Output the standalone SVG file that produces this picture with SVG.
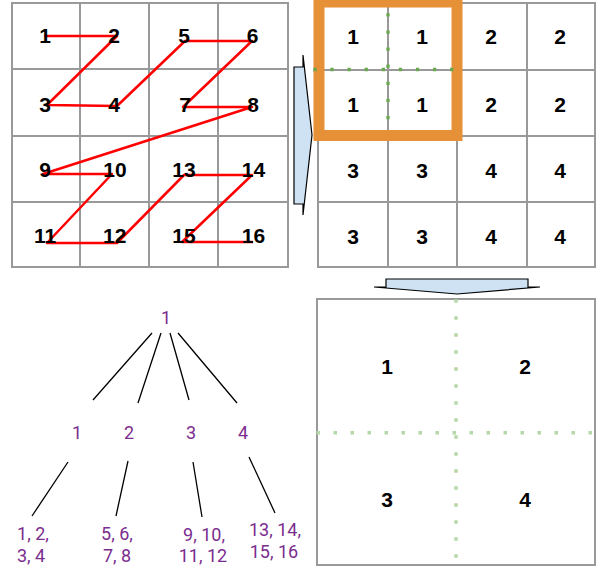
<svg xmlns="http://www.w3.org/2000/svg" width="601" height="569" viewBox="0 0 601 569">
<style>
.grid{fill:none;stroke:#999999;stroke-width:2}
.num{font-family:"Liberation Sans",Arial,sans-serif;font-weight:bold;font-size:21px;fill:#000;text-anchor:middle}
.red{fill:none;stroke:#ff0000;stroke-width:2.5;stroke-linejoin:round}
.arrow{fill:#cfe2f3;stroke:#000;stroke-width:1.2;stroke-linejoin:miter}
.dg{stroke:#6aa84f;stroke-width:3.3;stroke-dasharray:3.3 13.8;fill:none}
.lg{stroke:#b6d7a8;stroke-width:3.5;stroke-dasharray:3.5 13.5;fill:none}
.tree{font-family:Roboto,"Liberation Sans",sans-serif;font-size:18px;fill:#7b2d8e;text-anchor:middle}
.edge{stroke:#000;stroke-width:1.3;fill:none}
</style>
<rect width="601" height="569" fill="#ffffff"/>

<g id="left-grid">
<rect class="grid" x="12" y="3" width="276" height="264"/>
<path class="grid" d="M80 3V267M149 3V267M218 3V267M12 69H288M12 136H288M12 202H288"/>
</g>
<g id="zorder-path">
<polyline class="red" points="44,36 117,36 47,105 117,106 185,41 252,41 183,107 252,107 43,174 112,174 47,243 117,243 184,175 252,175 182,242 253,242"/>
</g>
<g id="left-grid-labels">
<text class="num" x="45" y="43">1</text>
<text class="num" x="114" y="43">2</text>
<text class="num" x="184" y="43">5</text>
<text class="num" x="252.5" y="43">6</text>
<text class="num" x="45" y="111.5">3</text>
<text class="num" x="114" y="111.5">4</text>
<text class="num" x="185" y="111.5">7</text>
<text class="num" x="253" y="111.5">8</text>
<text class="num" x="45" y="176.5">9</text>
<text class="num" x="115" y="176.5">10</text>
<text class="num" x="184" y="176.5">13</text>
<text class="num" x="253.5" y="176.5">14</text>
<text class="num" x="45" y="242.5">11</text>
<text class="num" x="114.7" y="242.5">12</text>
<text class="num" x="184" y="242.5">15</text>
<text class="num" x="253.5" y="242.5">16</text>
</g>

<g id="arrow-right">
<polygon class="arrow" points="294,67 303,67 303,55 312,135 303,215 303,204 294,204"/>
</g>

<g id="right-grid">
<rect class="grid" x="318" y="3" width="277" height="264"/>
<path class="grid" d="M388 3V267M457 3V267M527 3V267M318 70H595M318 136H595M318 202H595"/>
<text class="num" x="353" y="43.5">1</text>
<text class="num" x="422" y="43.5">1</text>
<text class="num" x="491" y="43.5">2</text>
<text class="num" x="560" y="43.5">2</text>
<text class="num" x="353" y="111.5">1</text>
<text class="num" x="422" y="111.5">1</text>
<text class="num" x="491" y="111.5">2</text>
<text class="num" x="560" y="111.5">2</text>
<text class="num" x="353" y="177.5">3</text>
<text class="num" x="422" y="177.5">3</text>
<text class="num" x="491" y="177.5">4</text>
<text class="num" x="560" y="177.5">4</text>
<text class="num" x="353" y="243.5">3</text>
<text class="num" x="422" y="243.5">3</text>
<text class="num" x="491" y="243.5">4</text>
<text class="num" x="560" y="243.5">4</text>
</g>
<g id="highlight-block">
<rect x="319" y="2" width="138" height="133.5" fill="none" stroke="#e69138" stroke-width="11"/>
<line class="dg" x1="388" y1="13.3" x2="388" y2="122"/>
<line class="dg" x1="313.3" y1="69.5" x2="454" y2="69.5"/>
</g>

<g id="arrow-down">
<polygon class="arrow" points="386,279 528,279 528,287 540,287 457,294 374,287 386,287"/>
</g>

<g id="quad-box">
<rect class="grid" x="317" y="299" width="278" height="266"/>
<line class="lg" x1="456" y1="299.3" x2="456" y2="565"/>
<line class="lg" x1="316.5" y1="432.7" x2="595" y2="432.7"/>
<text class="num" x="387" y="374">1</text>
<text class="num" x="525" y="374">2</text>
<text class="num" x="387" y="507">3</text>
<text class="num" x="525" y="507">4</text>
</g>

<g id="tree-edges">
<path class="edge" d="M152 333L93 400M161 333L138 403M170 333L189 400M178 333L237 403"/>
<path class="edge" d="M68 462L32 516M128 461L116 516M193 462L202 517M249 457L275 513"/>
</g>
<g id="tree-root"><text class="tree" x="166" y="323.5">1</text></g>
<g id="tree-l1"><text class="tree" x="77" y="438.5">1</text></g>
<g id="tree-l2"><text class="tree" x="129" y="438.5">2</text></g>
<g id="tree-l3"><text class="tree" x="191" y="438.5">3</text></g>
<g id="tree-l4"><text class="tree" x="243" y="438.5">4</text></g>
<g id="leaf-1"><text class="tree" x="33" y="539.5">1, 2,</text><text class="tree" x="31" y="562">3, 4</text></g>
<g id="leaf-2"><text class="tree" x="117" y="539.5">5, 6,</text><text class="tree" x="117" y="562">7, 8</text></g>
<g id="leaf-3"><text class="tree" x="204" y="540.5">9, 10,</text><text class="tree" x="203" y="561.7">11, 12</text></g>
<g id="leaf-4"><text class="tree" x="275" y="535.7">13, 14,</text><text class="tree" x="274" y="558.3">15, 16</text></g>
</svg>
